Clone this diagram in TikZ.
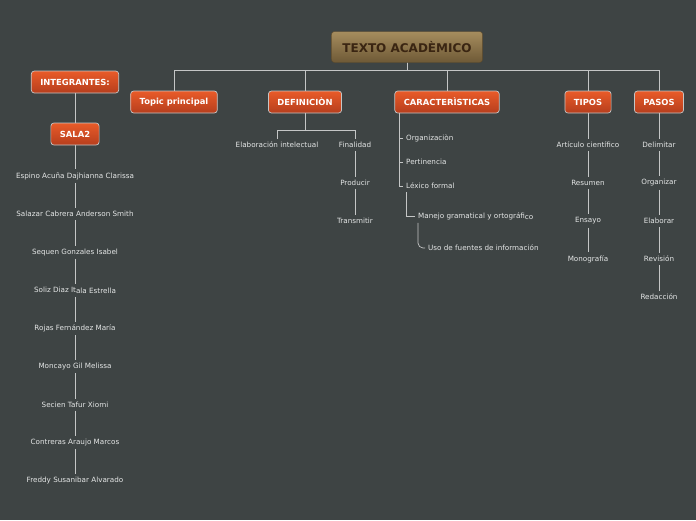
\documentclass[tikz,border=0pt]{standalone}
\usepackage{fontspec}
\setmainfont{DejaVu Sans}
\usetikzlibrary{positioning}
\definecolor{bgcol}{HTML}{3E4444}
\definecolor{lncol}{HTML}{C4C6C6}
\definecolor{txcol}{HTML}{E4E6E6}
\definecolor{orgtop}{HTML}{E95B29}
\definecolor{orgbot}{HTML}{B63E1D}
\definecolor{rtop}{HTML}{A68D5E}
\definecolor{rbot}{HTML}{6E5936}
\definecolor{rtext}{HTML}{3A2512}

\begin{document}
\begin{tikzpicture}[x=1pt, y=-1pt,
  rootbox/.style={draw=rbot!80!black, rounded corners=3pt,
                  top color=rtop, bottom color=rbot,
                  text=rtext, font=\fontsize{12}{14}\selectfont\bfseries,
                  minimum height=31pt, inner xsep=11pt},
  topbox/.style={draw=lncol, line width=0.7pt, rounded corners=3pt,
                 top color=orgtop, bottom color=orgbot,
                 text=white, font=\fontsize{8.4}{9.5}\selectfont\bfseries,
                 minimum height=22pt, inner xsep=9pt},
  leaf/.style={text=txcol, font=\fontsize{7.2}{8}\selectfont, inner sep=3pt},
  conn/.style={draw=lncol, line width=0.7pt},
]
  \useasboundingbox (0,0) rectangle (696,520);
  \fill[bgcol] (0,0) rectangle (696,520);

  %% ---- main topic and branches ----
  \node[rootbox] (root) at (407,47) {TEXTO ACADÈMICO};
  \node[topbox] (topic)  at (174,102) {Topic principal};
  \node[topbox] (defin)  at (305,102) {DEFINICIÒN};
  \node[topbox] (caract) at (447,102) {CARACTERÌSTICAS};
  \node[topbox] (tipos)  at (588,102) {TIPOS};
  \node[topbox] (pasos)  at (659,102) {PASOS};
  \foreach \c in {topic,defin,caract,tipos,pasos}
    \draw[conn] (root.south) -- ++(0,8) -| (\c.north);

  %% ---- integrantes ----
  \node[topbox] (integ) at (75,82) {INTEGRANTES:};
  \node[topbox] (sala) at (75,134) {SALA2};
  \draw[conn] (integ) -- (sala);
  \foreach \n/\t [count=\i] in {
      1/Espino Acuña Dajhianna Clarissa,
      2/Salazar Cabrera Anderson Smith,
      3/Sequen Gonzales Isabel,
      4/Soliz Diaz It\raisebox{-1pt}{ala Estrella},
      5/Rojas Fernández María,
      6/Moncayo Gil Melissa,
      7/Secien Tafur Xiomi,
      8/Contreras Araujo Marcos,
      9/Freddy Susanibar Alvarado}
    \node[leaf] (s\n) at (75,{176+38.1*(\i-1)}) {\t};
  \draw[conn] (sala) -- (s1);
  \foreach \a/\b in {1/2,2/3,3/4,4/5,5/6,6/7,7/8,8/9}
    \draw[conn] (s\a) -- (s\b);

  %% ---- definicion ----
  \node[leaf] (d1) at (277,145) {Elaboración intelectual};
  \node[leaf] (d2) at (355,145) {Finalidad};
  \node[leaf] (d3) at (355,183) {Producir};
  \node[leaf] (d4) at (355,221) {Transmitir};
  \foreach \c in {d1,d2}
    \draw[conn] (defin.south) -- ++(0,17) -| (\c.north);
  \draw[conn] (d2) -- (d3);
  \draw[conn] (d3) -- (d4);

  %% ---- caracteristicas ----
  \node[leaf, anchor=west] (c1) at (403,138) {Organizaciòn};
  \node[leaf, anchor=west] (c2) at (403,162) {Pertinencia};
  \node[leaf, anchor=west] (c3) at (403,186) {Léxico formal};
  \node[leaf, anchor=west] (c4) at (415,216) {Manejo gramatical y ortográfi\raisebox{-1pt}{co}};
  \node[leaf, anchor=west] (c5) at (425,248) {Uso de fuentes de información};
  \foreach \c in {c1,c2,c3}
    \draw[conn] ([xshift=5pt]caract.south west) |- (\c.west);
  \draw[conn] ([xshift=3pt]c3.south west) |- (c4.west);
  \draw[conn, rounded corners=5pt] ([xshift=3pt]c4.south west) |- (c5.west);

  %% ---- tipos ----
  \foreach \n/\t [count=\i] in {1/Artículo científico, 2/Resumen, 3/Ensayo, 4/Monografía}
    \node[leaf] (t\n) at (588,{145+38*(\i-1)}) {\t};
  \draw[conn] (tipos) -- (t1);
  \foreach \a/\b in {1/2,2/3,3/4}
    \draw[conn] (t\a) -- (t\b);

  %% ---- pasos ----
  \foreach \n/\t [count=\i] in {1/Delimitar, 2/Organizar, 3/Elaborar, 4/Revisión, 5/Redacción}
    \node[leaf] (p\n) at (659,{145+38*(\i-1)}) {\t};
  \draw[conn] (pasos) -- (p1);
  \foreach \a/\b in {1/2,2/3,3/4,4/5}
    \draw[conn] (p\a) -- (p\b);
\end{tikzpicture}
\end{document}
